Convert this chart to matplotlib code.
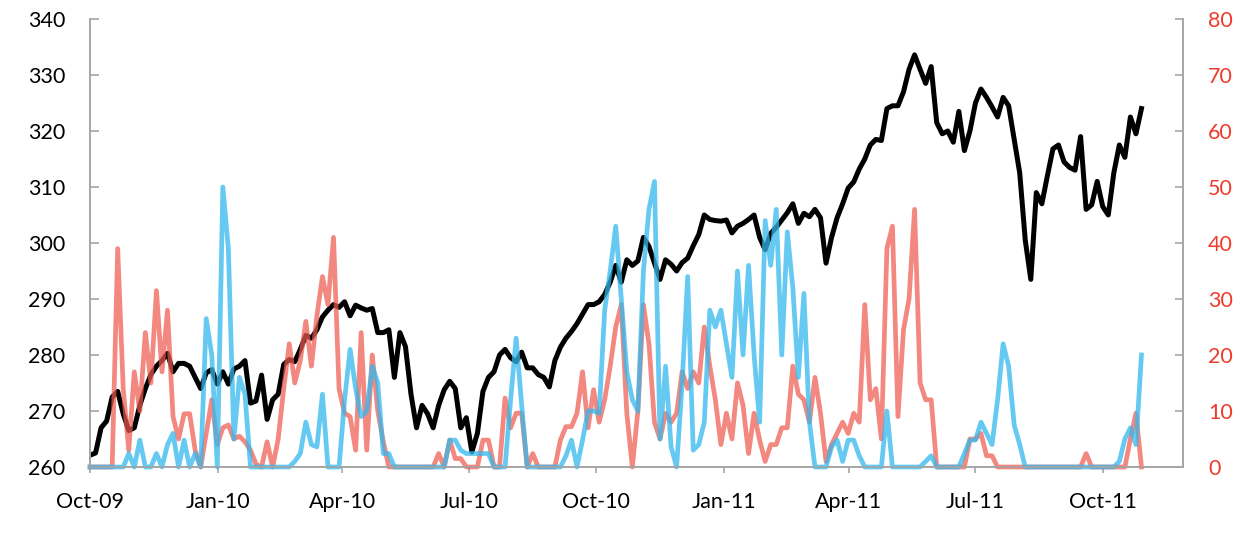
import numpy as np
import pandas as pd
import matplotlib
matplotlib.use("Agg")
import matplotlib.pyplot as plt
import matplotlib.dates as mdates

plt.rcParams['font.family'] = ['Lato', 'DejaVu Sans']

# sampled every ~4 days, 1 Oct 2009 to 29 Oct 2011
dates = pd.date_range('2009-10-01', '2011-10-29', periods=191)

# index level (left axis)
index_level = [
    262.1, 262.5, 267, 268.2, 272.5, 273.5, 269.5, 266.5, 267, 271,
    274, 276.5, 278, 279, 280.3, 277, 278.5, 278.5, 278, 276,
    274, 276.8, 277.4, 274.8, 277, 274.8, 277.5, 278, 279, 271.4,
    271.8, 276.4, 268.5, 272, 273, 278.3, 279.2, 278.8, 281, 283.5,
    283, 284.5, 286.8, 288, 289, 288.5, 289.5, 287, 288.9, 288.4,
    288, 288.3, 284, 284, 284.5, 276, 284, 281.5, 273, 267,
    271, 269.5, 267, 271, 273.8, 275.3, 274, 267, 268.8, 262.7,
    266, 273.5, 276, 277, 280, 281, 279.5, 278.8, 280.5, 277.7,
    277.7, 276.5, 276, 274.3, 279, 281.4, 283, 284.2, 285.6, 287.3,
    289, 289, 289.5, 290.8, 293, 296, 293, 297, 296, 296.8,
    301, 299.4, 296.4, 293.5, 297, 296.2, 295, 296.5, 297.3, 299.5,
    301.5, 305, 304.2, 304, 303.9, 304.1, 301.8, 303, 303.5, 304.2,
    305, 301, 298.8, 301.7, 302.8, 304.1, 305.4, 307, 303.5, 305.3,
    304.7, 306, 304.5, 296.4, 301, 304.5, 307, 309.8, 310.9, 313.2,
    315, 317.5, 318.5, 318.3, 324, 324.5, 324.5, 327, 331, 333.6,
    331, 328.5, 331.5, 321.5, 319.5, 320, 318, 323.5, 316.5, 320,
    325, 327.5, 326, 324.3, 322.5, 326, 324.5, 318.5, 312.5, 300.5,
    293.5, 309, 307, 312, 316.8, 317.5, 314.5, 313.5, 313, 319,
    306, 306.8, 311, 306.5, 305, 312.5, 317.5, 315.3, 322.5, 319.5,
    324,
]

# red series (right axis)
red_series = [
    0, 0, 0, 0, 0, 39, 14, 3, 17, 10,
    24, 15, 31.5, 17, 28, 9, 5, 9.5, 9.5, 3,
    0, 6, 12, 4, 7, 7.5, 5, 5.5, 4.5, 3,
    0.5, 0, 4.5, 0, 5, 14, 22, 15, 19, 26,
    18, 27, 34, 29, 41, 14, 9.6, 9, 3, 24,
    3, 20, 10, 4.5, 0, 0, 0, 0, 0, 0,
    0, 0, 0, 2.4, 0, 4.8, 1.5, 1.5, 0, 0,
    0, 4.8, 4.8, 0, 0, 12.3, 7, 9.6, 9.6, 0,
    2.4, 0, 0, 0, 0, 4.8, 7.2, 7.2, 9.6, 17,
    7, 13.8, 8, 12, 18, 25, 29, 9.6, 0, 10,
    29, 22, 8, 5, 9.6, 8, 9.6, 17, 14, 17,
    15, 25, 18, 12, 4, 9.6, 5, 15, 11, 2.4,
    9.6, 4.8, 1, 4, 4, 7, 7, 18, 13, 12,
    8, 16, 9.6, 1, 4, 6, 8, 6, 9.6, 8,
    29, 12, 14, 5, 39, 43, 9, 24.5, 30, 46,
    15, 12, 12, 0, 0, 0, 0, 0, 0, 5,
    5, 6, 2, 2, 0, 0, 0, 0, 0, 0,
    0, 0, 0, 0, 0, 0, 0, 0, 0, 0,
    2.4, 0, 0, 0, 0, 0, 0, 0, 5, 9.6,
    0,
]

# blue series (right axis)
blue_series = [
    0, 0, 0, 0, 0, 0, 0, 2.4, 0, 4.8,
    0, 0, 2.4, 0, 4, 6, 0, 4.8, 0, 2.4,
    0, 26.5, 20, 0, 50, 39, 5, 16, 13, 0,
    0, 0, 0, 0, 0, 0, 0, 1, 2.4, 8,
    4, 3.6, 13, 0, 0, 0, 12, 21, 14, 9,
    10, 18, 15, 2.4, 2.4, 0, 0, 0, 0, 0,
    0, 0, 0, 0, 0, 4.8, 4.8, 3, 2.4, 2.4,
    2.4, 2.4, 2.4, 0, 0, 0, 12, 23, 11, 0,
    0, 0, 0, 0, 0, 0, 2, 4.8, 0, 4.8,
    10, 10, 9.6, 28, 35, 43, 30, 17, 12, 10,
    35, 46, 51, 5, 18, 3.6, 0, 15, 34, 3,
    4, 8, 28, 25, 28, 22, 16, 35, 20, 36,
    20, 8, 44, 36, 46, 20, 42, 32, 16, 31,
    8, 0, 0, 0, 3.6, 4.8, 1, 4.8, 4.8, 2,
    0, 0, 0, 0, 10, 0, 0, 0, 0, 0,
    0, 1, 2, 0, 0, 0, 0, 0, 2.4, 4.8,
    4.8, 8, 6, 4, 12, 22, 18, 7.5, 4, 0,
    0, 0, 0, 0, 0, 0, 0, 0, 0, 0,
    0, 0, 0, 0, 0, 0, 1, 5, 7, 4,
    20,
]

left_ticks = np.arange(260, 341, 10)
right_ticks = np.arange(0, 81, 10)

axis_grey = '#A6A6A6'
label_red = '#EE3B2B'

fig = plt.figure(figsize=(12.59, 5.57), dpi=100)
ax = fig.add_axes([0.0715, 0.1616, 0.8682, 0.8043])
ax2 = ax.twinx()

# black line underneath, coloured lines drawn on top
ax.plot(dates, index_level, color='black', lw=3.6, solid_joinstyle='round')
ax2.plot(dates, red_series, color='#EE5A4E', lw=3.4, alpha=0.72, clip_on=False)
ax2.plot(dates, blue_series, color='#33B8EE', lw=3.4, alpha=0.75, clip_on=False)

ax.set_ylim(260, 340)
ax2.set_ylim(0, 80)
ax.set_yticks(left_ticks)
ax2.set_yticks(right_ticks)
ax.set_xlim(pd.Timestamp('2009-10-01'), pd.Timestamp('2011-11-28'))

ax.xaxis.set_major_locator(mdates.MonthLocator(bymonth=[1, 4, 7, 10]))
ax.xaxis.set_major_formatter(mdates.DateFormatter('%b-%y'))

for a in (ax, ax2):
    a.spines['top'].set_visible(False)
    for s in ('left', 'right', 'bottom'):
        a.spines[s].set_color(axis_grey)
        a.spines[s].set_linewidth(1.2)

ax.tick_params(axis='x', direction='out', length=4, width=1.2, color=axis_grey,
               labelsize=15.5, pad=14)
ax.tick_params(axis='y', direction='in', length=6.5, width=1.2, color=axis_grey,
               labelsize=15.5, pad=18)
ax2.tick_params(axis='y', direction='in', length=6, width=1.2, color=axis_grey,
                labelsize=15.5, pad=18, labelcolor=label_red)

fig.savefig('out.png', dpi=100)
